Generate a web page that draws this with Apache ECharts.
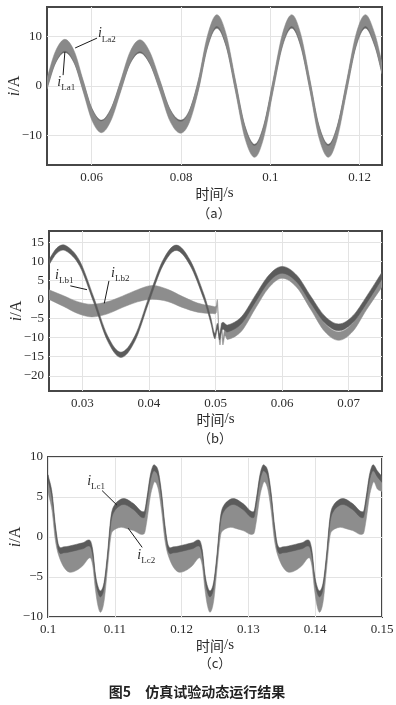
<!DOCTYPE html>
<html>
<head>
<meta charset="utf-8">
<script src="https://cdn.jsdelivr.net/npm/echarts@6/dist/echarts.min.js"></script>
<style>
  html, body { margin: 0; background: #fff; }
  #main { width: 396px; height: 705px; }
</style>
</head>
<body>
<div id="main"></div>
<script>
// (a) iLa1 / iLa2, band centres
const aTime = [0.0500, 0.0519, 0.0540, 0.0561, 0.0581, 0.0601, 0.0622, 0.0643, 0.0665, 0.0686,
  0.0708, 0.0730, 0.0753, 0.0775, 0.0798, 0.0818, 0.0839, 0.0859, 0.0880, 0.0901,
  0.0922, 0.0943, 0.0965, 0.0985, 0.1006, 0.1027, 0.1048, 0.1068, 0.1089, 0.1109,
  0.1130, 0.1150, 0.1171, 0.1192, 0.1213, 0.1234, 0.1250]
const aLa1 = [0.4, 5.4, 7.6, 5.4, 0, -5.4, -7.7, -5.4, 0, 5.3,
  7.5, 5.3, 0, -5.4, -7.7, -5.9, 0.2, 8.5, 12.5, 8.8,
  0, -8.8, -12.6, -8.8, 0, 8.8, 12.5, 8.8, 0, -8.8,
  -12.6, -8.8, 0, 8.8, 12.5, 8.8, 3.4]
const aLa2 = [0.5, 5.9, 8.3, 5.9, 0, -5.9, -8.3, -5.9, 0, 5.8,
  8.2, 5.8, 0, -5.9, -8.4, -6.4, 0.2, 9.0, 13.3, 9.4,
  0, -9.4, -13.3, -9.4, 0, 9.4, 13.3, 9.4, 0, -9.4,
  -13.3, -9.4, 0, 9.4, 13.3, 9.4, 3.6]
const aRipple1 = 1.6
const aRipple2 = 2.3

// (b) iLb1 / iLb2
const bTime1 = [0.0250, 0.0262, 0.0275, 0.0296, 0.0317, 0.0338, 0.0358, 0.0379, 0.0400, 0.0421,
  0.0441, 0.0462, 0.0483, 0.0493, 0.0499, 0.0503, 0.0506, 0.0510, 0.0518, 0.0539,
  0.0559, 0.0580, 0.0600, 0.0622, 0.0643, 0.0664, 0.0685, 0.0706, 0.0727, 0.0750]
const bLb1 = [9.8, 12.9, 13.5, 9.5, 0, -10.2, -14.5, -10.2, 0, 9.6,
  13.6, 9.6, 0.5, -5.5, -9.6, -7.0, -9.8, -7.0, -7.6, -5.4,
  0, 5.5, 7.8, 5.5, 0, -5.2, -7.3, -5.2, 0, 6.3]
const bRipple1 = [1.4, 1.4, 1.4, 1.4, 1.4, 1.4, 1.4, 1.4, 1.4, 1.4,
  1.4, 1.4, 1.4, 1.4, 1.4, 1.6, 1.6, 1.8, 1.8, 1.8,
  1.8, 1.8, 1.8, 1.8, 1.8, 1.8, 1.8, 1.8, 1.8, 1.8]
const bTime2 = [0.0250, 0.0272, 0.0293, 0.0314, 0.0337, 0.0360, 0.0383, 0.0405, 0.0428, 0.0450,
  0.0473, 0.0496, 0.0501, 0.0503, 0.0505, 0.0507, 0.0509, 0.0511, 0.0514, 0.0518,
  0.0539, 0.0559, 0.0580, 0.0600, 0.0622, 0.0643, 0.0664, 0.0685, 0.0706, 0.0727, 0.0750]
const bLb2 = [1.3, -0.4, -2.1, -2.9, -2.2, -0.6, 1.0, 1.9, 1.1, -0.6,
  -2.1, -2.7, -2.6, -1.0, -8.5, -11.0, -7.0, -11.0, -8.5, -9.4,
  -7.2, -1.5, 4.2, 6.7, 4.3, -1.5, -7.3, -9.6, -7.3, -1.5, 4.4]
const bRipple2 = [2.5, 2.8, 3.1, 3.3, 3.2, 3.0, 3.2, 3.6, 3.2, 2.9,
  2.4, 1.9, 1.8, 1.5, 1.8, 1.8, 1.8, 1.8, 2.0, 2.2,
  2.2, 2.2, 2.2, 2.2, 2.2, 2.2, 2.2, 2.2, 2.2, 2.2, 2.2]

// (c) iLc1 (thin dark band) / iLc2 (light band under it, lower edge given)
const cTime = [0.1000, 0.1006, 0.1011, 0.1016, 0.1024, 0.1032, 0.1042, 0.1052, 0.1063, 0.1067,
  0.1071, 0.1075, 0.1079, 0.1084, 0.1089, 0.1094, 0.1098, 0.1108, 0.1116, 0.1128,
  0.1144, 0.1148, 0.1153, 0.1157,
  0.1160, 0.1165, 0.1170, 0.1175, 0.1180, 0.1188, 0.1196, 0.1206, 0.1216, 0.1227,
  0.1231, 0.1235, 0.1239, 0.1243, 0.1248, 0.1253, 0.1258, 0.1262, 0.1272, 0.1280,
  0.1292, 0.1308, 0.1312, 0.1317, 0.1321,
  0.1324, 0.1329, 0.1334, 0.1339, 0.1344, 0.1352, 0.1360, 0.1370, 0.1380, 0.1391,
  0.1395, 0.1399, 0.1403, 0.1407, 0.1412, 0.1417, 0.1422, 0.1426, 0.1436, 0.1444,
  0.1456, 0.1472, 0.1476, 0.1481, 0.1485,
  0.1488, 0.1493, 0.1500]
const cLc1 = [7.4, 5.2, 1.2, -1.4, -1.6, -1.5, -1.3, -1.1, -0.8, -2.0,
  -5.0, -6.6, -7.1, -6.0, -2.5, 2.0, 3.4, 4.3, 4.4, 3.8,
  2.8, 4.5, 7.3, 8.5,
  8.6, 7.9, 5.2, 1.2, -1.4, -1.6, -1.5, -1.3, -1.1, -0.8,
  -2.0, -5.0, -6.6, -7.1, -6.0, -2.5, 2.0, 3.4, 4.3, 4.4,
  3.8, 2.8, 4.5, 7.3, 8.5,
  8.6, 7.9, 5.2, 1.2, -1.4, -1.6, -1.5, -1.3, -1.1, -0.8,
  -2.0, -5.0, -6.6, -7.1, -6.0, -2.5, 2.0, 3.4, 4.3, 4.4,
  3.8, 2.8, 4.5, 7.3, 8.5,
  8.6, 7.9, 7.2]
const cLc2Low = [5.6, 3.3, -0.4, -2.3, -3.8, -4.4, -4.2, -3.6, -2.6, -3.6,
  -6.6, -8.7, -9.4, -8.0, -4.0, 0.0, 0.8, 1.2, 1.1, 0.8,
  0.4, 2.0, 5.0, 6.4,
  6.9, 6.0, 3.3, -0.4, -2.3, -3.8, -4.4, -4.2, -3.6, -2.6,
  -3.6, -6.6, -8.7, -9.4, -8.0, -4.0, 0.0, 0.8, 1.2, 1.1,
  0.8, 0.4, 2.0, 5.0, 6.4,
  6.9, 6.0, 3.3, -0.4, -2.3, -3.8, -4.4, -4.2, -3.6, -2.6,
  -3.6, -6.6, -8.7, -9.4, -8.0, -4.0, 0.0, 0.8, 1.2, 1.1,
  0.8, 0.4, 2.0, 5.0, 6.4,
  6.9, 6.0, 5.7]
const cRipple1 = 0.75

const aXTicks = [0.06, 0.08, 0.1, 0.12]
const aYTicks = [-10, 0, 10]
const bXTicks = [0.03, 0.04, 0.05, 0.06, 0.07]
const bYTicks = [-20, -15, -10, -5, 0, 5, 10, 15]
const cXTicks = [0.1, 0.11, 0.12, 0.13, 0.14, 0.15]
const cYTicks = [-10, -5, 0, 5, 10]

const SERIF = 'Liberation Serif'
const CJK = 'Noto Sans CJK SC'
const DARK = '#5b5b5b'
const LIGHT = '#8d8d8d'
const TEXT = '#2b2b2b'

const chart = echarts.init(document.getElementById('main'))

const around = (c, w) => {
  const wi = i => Array.isArray(w) ? w[i] : w
  return [c.map((v, i) => v - wi(i) / 2), c.map((v, i) => v + wi(i) / 2)]
}

// cubic hermite through pixel points, slopes from neighbours
const curve = (pts, start) => {
  const n = pts.length
  const slope = i => {
    const a = pts[Math.max(i - 1, 0)], b = pts[Math.min(i + 1, n - 1)]
    return (b[1] - a[1]) / (b[0] - a[0])
  }
  let d = (start ? 'M' : 'L') + pts[0][0] + ',' + pts[0][1]
  for (let i = 0; i < n - 1; i++) {
    const p1 = pts[i], p2 = pts[i + 1]
    const h = (p2[0] - p1[0]) / 3
    const c1 = [p1[0] + h, p1[1] + slope(i) * h]
    const c2 = [p2[0] - h, p2[1] - slope(i + 1) * h]
    d += 'C' + c1.join(',') + ' ' + c2.join(',') + ' ' + p2.join(',')
  }
  return d
}

const band = (g, t, low, high, color) => ({
  type: 'custom', xAxisIndex: g, yAxisIndex: g, silent: true, clip: true,
  data: t.map((x, i) => [x, low[i], high[i]]),
  encode: {x: 0, y: [1, 2]},
  renderItem: (params, api) => {
    if (params.dataIndex !== 0) return
    const top = t.map((x, i) => api.coord([x, high[i]]))
    const bottom = t.map((x, i) => api.coord([x, low[i]])).reverse()
    return {
      type: 'path',
      shape: {pathData: curve(top, true) + curve(bottom, false) + 'Z'},
      style: {fill: color, stroke: color, lineWidth: 0.5}
    }
  }
})

const subRich = {
  i: {fontFamily: SERIF, fontStyle: 'italic', fontSize: 14, color: TEXT, padding: [0, 0, 3, 0], verticalAlign: 'top'},
  s: {fontFamily: SERIF, fontSize: 9, color: TEXT, lineHeight: 10, verticalAlign: 'bottom'}
}
const notes = (g, items) => ({
  type: 'line', xAxisIndex: g, yAxisIndex: g, data: [], silent: true,
  markLine: {
    silent: true, symbol: ['none', 'arrow'], symbolSize: [0, 6],
    lineStyle: {color: '#1a1a1a', width: 1, type: 'solid'},
    label: {show: false},
    data: items.map(n => [{coord: n.from}, {coord: n.to}])
  },
  markPoint: {
    silent: true, symbol: 'circle', symbolSize: 1,
    itemStyle: {color: 'rgba(0,0,0,0)'},
    label: {show: true, position: 'inside', formatter: p => `{i|i}{s|${p.name}}`, rich: subRich},
    data: items.map(n => ({name: n.sub, coord: n.at}))
  }
})

const minus = v => String(v).replace('-', '\u2212')
const xAxis = (g, min, max, ticks) => ({
  gridIndex: g, type: 'value', min: min, max: max,
  name: '{c|时间}/s', nameLocation: 'middle', nameGap: 21, nameMoveOverlap: false,
  nameTextStyle: {fontFamily: SERIF, fontSize: 15, color: TEXT, rich: {c: {fontFamily: CJK, fontSize: 14, color: TEXT}}},
  axisLine: {show: false},
  axisTick: {show: false, customValues: ticks},
  axisLabel: {customValues: ticks, fontFamily: SERIF, fontSize: 13, color: TEXT, margin: 6},
  splitLine: {show: true, lineStyle: {color: '#e3e3e3', width: 1}}
})
const yAxis = (g, min, max, ticks) => ({
  gridIndex: g, type: 'value', min: min, max: max,
  name: '{it|i}/A', nameLocation: 'middle', nameGap: 24, nameRotate: 90, nameMoveOverlap: false,
  nameTextStyle: {fontFamily: SERIF, fontSize: 16, color: TEXT, rich: {it: {fontFamily: SERIF, fontStyle: 'italic', fontSize: 16, color: TEXT}}},
  axisLine: {show: false},
  axisTick: {show: false, customValues: ticks},
  axisLabel: {customValues: ticks, fontFamily: SERIF, fontSize: 13, color: TEXT, margin: 5, formatter: minus},
  splitLine: {show: true, lineStyle: {color: '#e3e3e3', width: 1}}
})

const frame = {show: true, borderColor: '#474747', borderWidth: 2, backgroundColor: 'rgba(0,0,0,0)', outerBoundsMode: 'none', containLabel: false}
const grids = [
  Object.assign({left: 47, top: 7, width: 335, height: 158}, frame),
  Object.assign({left: 49, top: 231, width: 333, height: 160}, frame),
  Object.assign({left: 48, top: 457, width: 334, height: 160}, frame)
]

const [a1Low, a1High] = around(aLa1, aRipple1)
const [a2Low, a2High] = around(aLa2, aRipple2)
const [b1Low, b1High] = around(bLb1, bRipple1)
const [b2Low, b2High] = around(bLb2, bRipple2)
const [c1Low, c1High] = around(cLc1, cRipple1)

const series = [
  band(0, aTime, a1Low, a1High, '#656565'),
  band(0, aTime, a2Low, a2High, '#898989'),
  notes(0, [
    {sub: 'La2', at: [0.0634, 10.3], from: [0.0612, 9.7], to: [0.0563, 7.7]},
    {sub: 'La1', at: [0.0543, 0.4], from: [0.0536, 2.2], to: [0.0540, 6.9]}
  ]),
  band(1, bTime2, b2Low, b2High, LIGHT),
  band(1, bTime1, b1Low, b1High, DARK),
  notes(1, [
    {sub: 'Lb1', at: [0.0273, 6.0], from: [0.0282, 3.6], to: [0.0307, 2.6]},
    {sub: 'Lb2', at: [0.0357, 6.5], from: [0.0340, 4.9], to: [0.0333, -1.0]}
  ]),
  band(2, cTime, cLc2Low, cLc1, LIGHT),
  band(2, cTime, c1Low, c1High, DARK),
  notes(2, [
    {sub: 'Lc1', at: [0.1072, 6.8], from: [0.1081, 5.8], to: [0.1103, 4.0]},
    {sub: 'Lc2', at: [0.1147, -2.5], from: [0.1141, -1.3], to: [0.1120, 1.1]}
  ])
]

const caption = (text, x, y) => ({
  type: 'text', x: x, y: y, silent: true,
  style: {text: text, fontFamily: CJK, fontSize: 13, fill: TEXT, align: 'center', verticalAlign: 'middle'}
})

chart.setOption({
  animation: false,
  backgroundColor: '#fff',
  grid: grids,
  xAxis: [xAxis(0, 0.05, 0.125, aXTicks), xAxis(1, 0.025, 0.075, bXTicks), xAxis(2, 0.1, 0.15, cXTicks)],
  yAxis: [yAxis(0, -16, 16, aYTicks), yAxis(1, -24, 18, bYTicks), yAxis(2, -10, 10, cYTicks)],
  series: series,
  graphic: [
    caption('（a）', 214, 213),
    caption('（b）', 215, 438),
    caption('（c）', 215, 663),
    {
      type: 'text', x: 197, y: 692, silent: true,
      style: {text: '图5　仿真试验动态运行结果', fontFamily: CJK, fontSize: 14, fontWeight: 'bold', fill: '#222', align: 'center', verticalAlign: 'middle'}
    }
  ]
})
</script>
</body>
</html>
